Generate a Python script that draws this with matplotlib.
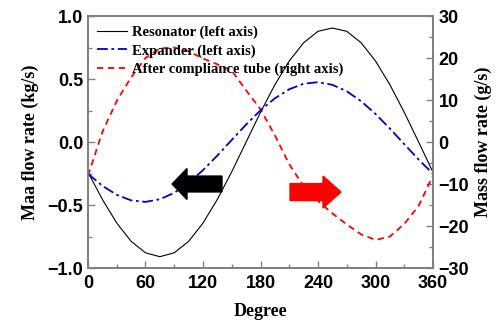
import matplotlib
matplotlib.use("Agg")
import matplotlib.pyplot as plt
from matplotlib.ticker import MultipleLocator

# phase angle, degrees
degree = [0, 15, 30, 45, 60, 75, 90, 105, 120, 135, 150, 165, 180,
          195, 210, 225, 240, 255, 270, 285, 300, 315, 330, 345, 360]

# left axis, kg/s
resonator = [-0.24, -0.455, -0.643, -0.788, -0.879, -0.91, -0.879, -0.788, -0.643,
             -0.455, -0.236, 0.0, 0.236, 0.455, 0.643, 0.788, 0.879, 0.905, 0.879,
             0.788, 0.643, 0.455, 0.236, 0.0, -0.24]
expander = [-0.252, -0.347, -0.419, -0.463, -0.475, -0.454, -0.403, -0.324, -0.223,
            -0.107, 0.017, 0.139, 0.252, 0.347, 0.419, 0.463, 0.475, 0.454, 0.403,
            0.324, 0.223, 0.107, -0.017, -0.139, -0.252]

# right axis, g/s
after_tube = [-8.0, 2.4, 9.8, 15.4, 20.0, 22.3, 22.5, 21.6, 19.9, 18.5, 17.0, 12.3, 7.8,
              1.6, -5.3, -10.5, -14.0, -17.0, -19.6, -22.0, -23.3, -22.5, -19.5, -15.2, -8.0]

TICK_FONT = {"family": "Liberation Sans", "weight": "bold", "size": 13}
LABEL_FONT = {"family": "Liberation Serif", "weight": "bold", "size": 13}
SPINE_COLOR = "#808080"

fig = plt.figure(figsize=(4.98, 3.21), dpi=100)
ax = fig.add_axes([0.1767, 0.165, 0.6928, 0.785])
ax2 = ax.twinx()

l1, = ax.plot(degree, resonator, color="black", linewidth=0.8,
              label="Resonator (left axis)")
l2, = ax.plot(degree, expander, color="#0000cc", linewidth=1.3,
              linestyle=(0, (6, 2, 1.5, 2)), label="Expander (left axis)")
l3, = ax2.plot(degree, after_tube, color="#ff0000", linewidth=1.3,
               linestyle=(0, (3.5, 2.5)), label="After compliance tube (right axis)")

ax.set_xlim(0, 360)
ax.set_ylim(-1.0, 1.0)
ax2.set_ylim(-30, 30)

ax.xaxis.set_major_locator(MultipleLocator(60))
ax.xaxis.set_minor_locator(MultipleLocator(30))
ax.yaxis.set_major_locator(MultipleLocator(0.5))
ax.yaxis.set_minor_locator(MultipleLocator(0.25))
ax2.yaxis.set_major_locator(MultipleLocator(10))
ax2.yaxis.set_minor_locator(MultipleLocator(5))

for a in (ax, ax2):
    for spine in a.spines.values():
        spine.set_color(SPINE_COLOR)
        spine.set_linewidth(1.3)
    a.tick_params(which="both", direction="in", color=SPINE_COLOR, width=1.0)
    a.tick_params(which="major", length=5)
    a.tick_params(which="minor", length=3)
ax.tick_params(axis="both", which="both", top=False, right=False)
ax.tick_params(axis="x", pad=5)
ax2.tick_params(axis="y", pad=4)

ax.set_xticklabels([f"{int(v)}" for v in ax.get_xticks()])
for lab in ax.get_xticklabels() + ax.get_yticklabels() + ax2.get_yticklabels():
    lab.set_fontproperties(TICK_FONT)

ax.set_xlabel("Degree", fontdict=LABEL_FONT, labelpad=8)
ax.set_ylabel("Maa flow rate (kg/s)", fontdict=LABEL_FONT, labelpad=6)
ax2.set_ylabel("Mass flow rate (g/s)", fontdict=LABEL_FONT, labelpad=4)

# direction arrows
ax.arrow(139.8, -0.333, -52.1 + 15.6, 0.0, width=0.126, head_width=0.246,
         head_length=15.6, length_includes_head=False, color="black", zorder=5)
ax.arrow(210.8, -0.397, 53.2 - 18.8, 0.0, width=0.134, head_width=0.254,
         head_length=18.8, length_includes_head=False, color="#ff0000", zorder=5)

leg = ax.legend(handles=[l1, l2, l3], loc="upper left", bbox_to_anchor=(0.0, 1.0),
                frameon=False, handlelength=2.0, handletextpad=0.4,
                labelspacing=0.35, borderaxespad=0.25,
                prop={"family": "Liberation Serif", "weight": "bold", "size": 10.5})
ax.set_zorder(ax2.get_zorder() + 1)
ax.patch.set_visible(False)

fig.savefig("out.png", dpi=100)
